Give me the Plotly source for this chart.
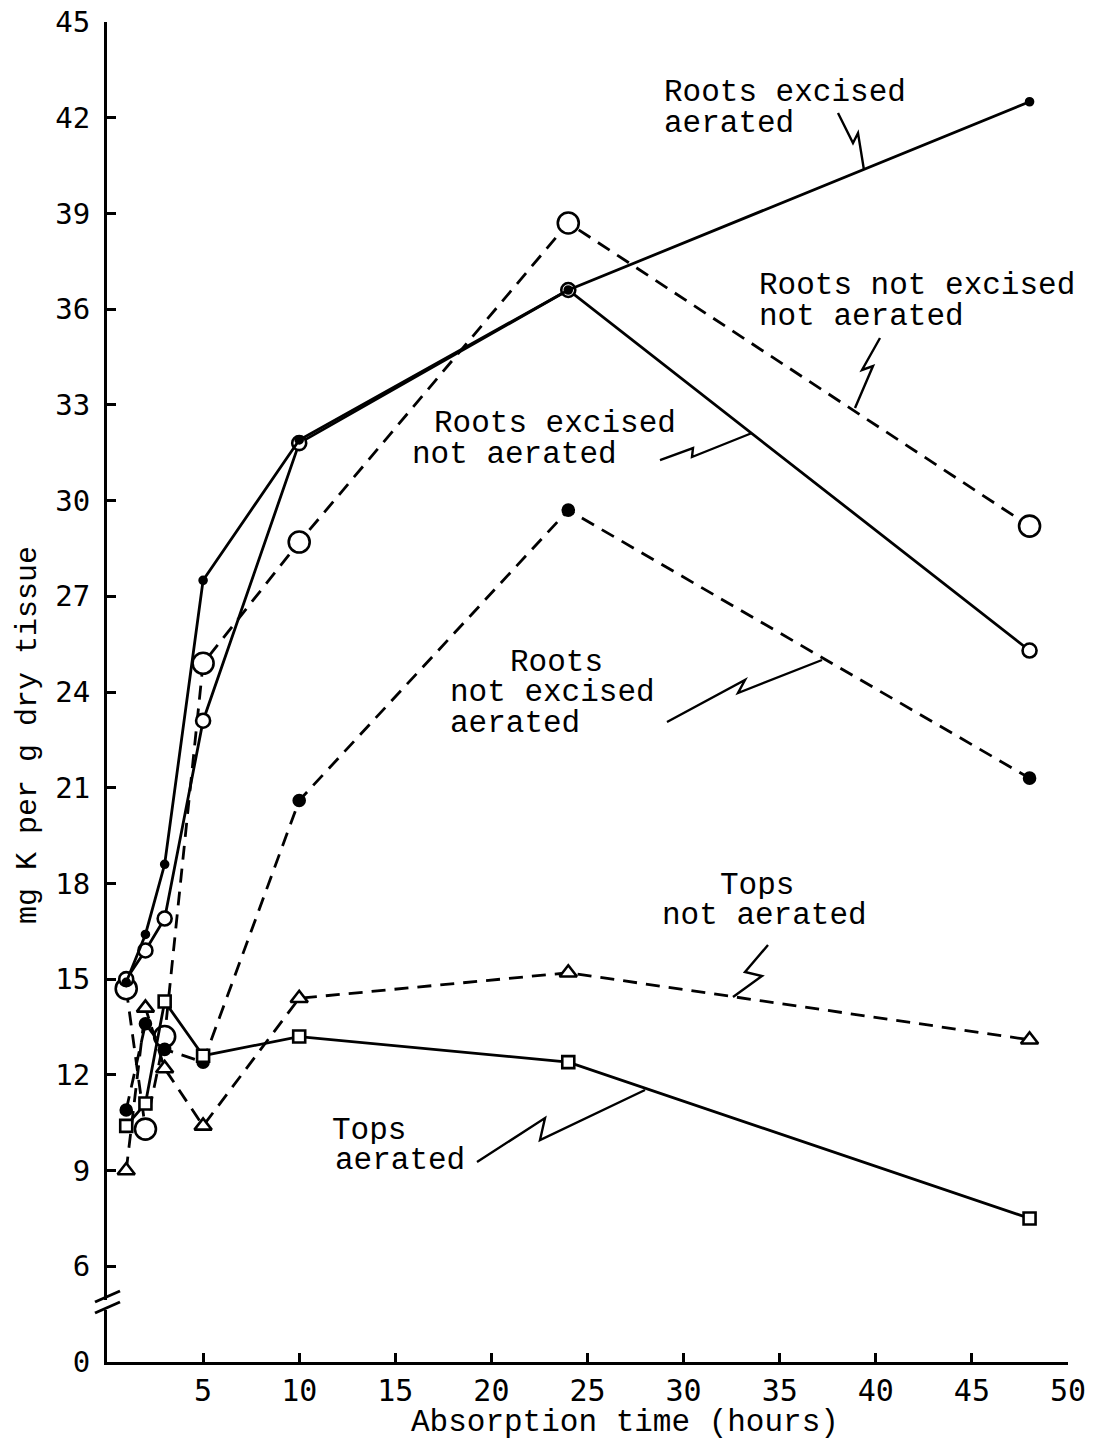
import plotly.graph_objects as go

# absorption times (hours)
hours = [1, 2, 3, 5, 10, 24, 48]

# mg K per g dry tissue
roots_excised_aerated = [14.9, 16.4, 18.6, 27.5, 31.9, 36.6, 42.5]
roots_excised_not_aerated = [15.0, 15.9, 16.9, 23.1, 31.8, 36.6, 25.3]
roots_not_excised_not_aerated = [14.7, 10.3, 13.2, 24.9, 28.7, 38.7, 29.2]
roots_not_excised_aerated = [10.9, 13.6, 12.8, 12.4, 20.6, 29.7, 21.3]
tops_not_aerated = [9.0, 14.1, 12.2, 10.4, 14.4, 15.2, 13.1]
tops_aerated = [10.4, 11.1, 14.3, 12.6, 13.2, 12.4, 7.5]

# broken axis: the "0" label sits one step below 6
y_tickvals = [3, 6, 9, 12, 15, 18, 21, 24, 27, 30, 33, 36, 39, 42, 45]
y_ticktext = ["0", "6", "9", "12", "15", "18", "21", "24", "27", "30", "33", "36", "39", "42", "45"]
x_tickvals = [5, 10, 15, 20, 25, 30, 35, 40, 45, 50]

W, H = 1099, 1441
OFF = 8  # page body margin
# where the plot area should land on screen
X0, X1, Y0, Y1 = 107, 1068, 22, 1362

TXT = "Liberation Mono, DejaVu Sans Mono, monospace"
NUM = "DejaVu Sans Mono, monospace"


def px(x):
    return (x - X0) / (X1 - X0)


def py(y):
    return (Y1 - y) / (Y1 - Y0)


def path(points):
    return "M " + " L ".join(f"{px(a):.5f},{py(b):.5f}" for a, b in points)


def series(y, dash, symbol, size, fill):
    return go.Scatter(
        x=hours, y=y, mode="lines+markers",
        line=dict(color="black", width=2.8, dash=dash),
        marker=dict(symbol=symbol, size=size, color=fill,
                    line=dict(color="black", width=2.6)),
        showlegend=False, cliponaxis=False,
    )


fig = go.Figure()
fig.add_trace(series(roots_not_excised_not_aerated, "14px,9px", "circle", 21, "white"))
fig.add_trace(series(roots_not_excised_aerated, "14px,9px", "circle", 11, "black"))
fig.add_trace(series(tops_not_aerated, "14px,9px", "triangle-up", 15, "white"))
fig.add_trace(series(tops_aerated, "solid", "square", 12, "white"))
fig.add_trace(series(roots_excised_not_aerated, "solid", "circle", 14, "white"))
fig.add_trace(series(roots_excised_aerated, "solid", "circle", 7, "black"))

labels = [
    ("Roots excised", 662, 92),
    ("aerated", 662, 123),
    ("Roots not excised", 757, 285),
    ("not aerated", 757, 316),
    ("Roots excised", 432, 423),
    ("not aerated", 410, 454),
    ("Roots", 508, 662),
    ("not excised", 448, 692),
    ("aerated", 448, 723),
    ("Tops", 718, 885),
    ("not aerated", 660, 915),
    ("Tops", 330, 1130),
    ("aerated", 333, 1160),
]
for text, x, y in labels:
    fig.add_annotation(text=text, x=px(x), y=py(y), xref="paper", yref="paper",
                       xanchor="left", yanchor="middle", showarrow=False,
                       height=28, font=dict(family=TXT, size=31, color="black"))

fig.add_annotation(text="Absorption time (hours)", x=px(625), y=py(1442),
                   xref="paper", yref="paper", showarrow=False,
                   font=dict(family=TXT, size=31, color="black"))
fig.add_annotation(text="mg K per g dry tissue", x=px(9), y=py(735),
                   xref="paper", yref="paper", showarrow=False, textangle=-90,
                   font=dict(family=TXT, size=30, color="black"))

leaders = [
    [(838, 113), (853, 143), (858, 133), (864, 170)],
    [(880, 338), (862, 370), (873, 366), (855, 408)],
    [(660, 460), (693, 448), (692, 457), (752, 433)],
    [(667, 722), (745, 680), (738, 693), (822, 660)],
    [(733, 997), (762, 976), (745, 972), (768, 945)],
    [(477, 1162), (545, 1118), (540, 1140), (645, 1090)],
]
for pts in leaders:
    fig.add_shape(type="path", path=path(pts), xref="paper", yref="paper",
                  line=dict(color="black", width=2.4))

# axis break marks
fig.add_shape(type="rect", x0=px(102), x1=px(115), y0=py(1310), y1=py(1300),
              xref="paper", yref="paper", fillcolor="white", line=dict(width=0))
for yb in (1302, 1313):
    fig.add_shape(type="line", x0=px(95), y0=py(yb), x1=px(120), y1=py(yb - 11),
                  xref="paper", yref="paper", line=dict(color="black", width=3))

fig.update_layout(
    width=W, height=H,
    margin=dict(l=X0 - OFF, r=W - X1 + OFF, t=Y0 - OFF, b=H - Y1 + OFF),
    paper_bgcolor="white", plot_bgcolor="white",
    xaxis=dict(
        range=[0, 50], tickvals=x_tickvals, showgrid=False, zeroline=False,
        showline=True, linecolor="black", linewidth=3, automargin=False,
        ticks="inside", ticklen=9, tickwidth=3, tickcolor="black",
        tickfont=dict(family=NUM, size=30, color="black"),
    ),
    yaxis=dict(
        range=[3, 45], tickvals=y_tickvals, ticktext=y_ticktext,
        showgrid=False, zeroline=False, automargin=False,
        showline=True, linecolor="black", linewidth=3,
        ticks="inside", ticklen=9, tickwidth=3, tickcolor="black",
        ticklabelstandoff=8, ticklabeloverflow="allow",
        tickfont=dict(family=NUM, size=29, color="black"),
    ),
)

fig.write_html("out.html")
